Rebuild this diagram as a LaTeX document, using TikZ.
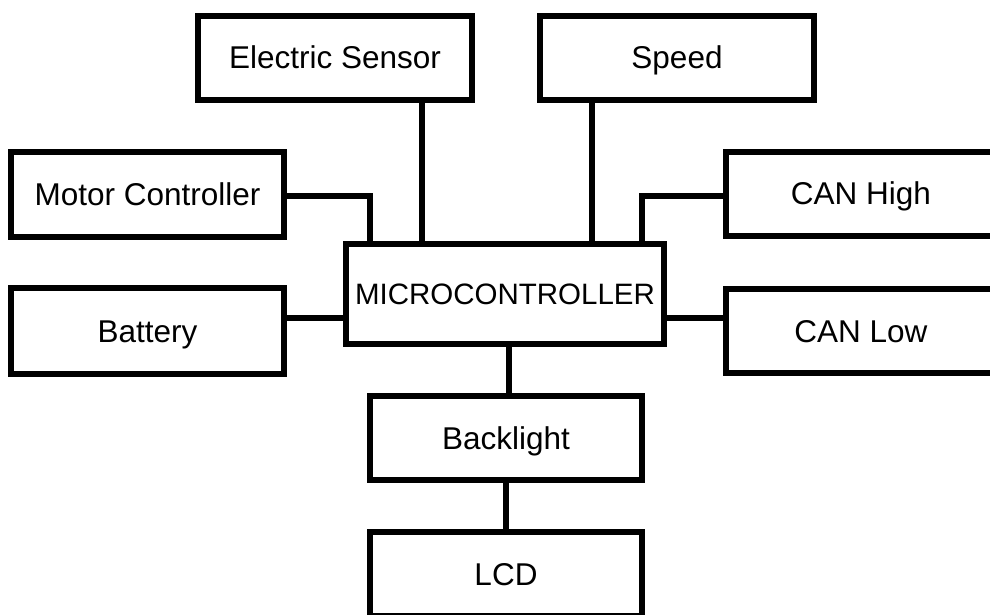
\documentclass[tikz,border=0pt]{standalone}
\usepackage{fontspec}
\setmainfont{Liberation Sans}
\begin{document}
\begin{tikzpicture}[x=1pt,y=1pt,
  blk/.style={draw=black,line width=6pt,fill=white,inner sep=0pt,
    text height=22pt,text depth=0pt,
    font=\fontsize{31.5}{36}\selectfont},
  wire/.style={draw=black,line width=6pt}]
\useasboundingbox (0,0) rectangle (990,614);
\node[blk,minimum width=274pt,minimum height=84pt] (es) at (335,556) {Electric Sensor};
\node[blk,minimum width=274pt,minimum height=84pt] (sp) at (677,556) {Speed};
\node[blk,minimum width=273pt,minimum height=85pt] (mc) at (147.5,419.5) {Motor Controller};
\node[blk,minimum width=270pt,minimum height=84pt] (ch) at (861,420) {CAN High};
\node[blk,minimum width=273pt,minimum height=86pt] (bat) at (147.5,283) {Battery};
\node[blk,minimum width=270pt,minimum height=84pt] (cl) at (861,283) {CAN Low};
\node[blk,minimum width=318pt,minimum height=100pt,font=\fontsize{29.5}{36}\selectfont] (mcu) at (505,320) {MICROCONTROLLER};
\node[blk,minimum width=272pt,minimum height=84pt] (bl) at (506,176) {Backlight};
\node[blk,minimum width=272pt,minimum height=84pt] (lcd) at (506,40) {LCD};
\draw[wire] ([xshift=87pt]es.south) -- ([xshift=87pt]es.south |- mcu.north);
\draw[wire] ([xshift=-85pt]sp.south) -- ([xshift=-85pt]sp.south |- mcu.north);
\draw[wire] ([yshift=-2pt]mc.east) -| ([xshift=-135pt]mcu.north);
\draw[wire] ([yshift=-2pt]ch.west) -| ([xshift=137pt]mcu.north);
\draw[wire] ([yshift=13pt]bat.east) -- ([yshift=13pt]bat.east -| mcu.west);
\draw[wire] ([yshift=13pt]cl.west) -- ([yshift=13pt]cl.west -| mcu.east);
\draw[wire] ([xshift=3pt]bl.north) -- ([xshift=3pt]bl.north |- mcu.south);
\draw[wire] (bl.south) -- (lcd.north);
\end{tikzpicture}
\end{document}
